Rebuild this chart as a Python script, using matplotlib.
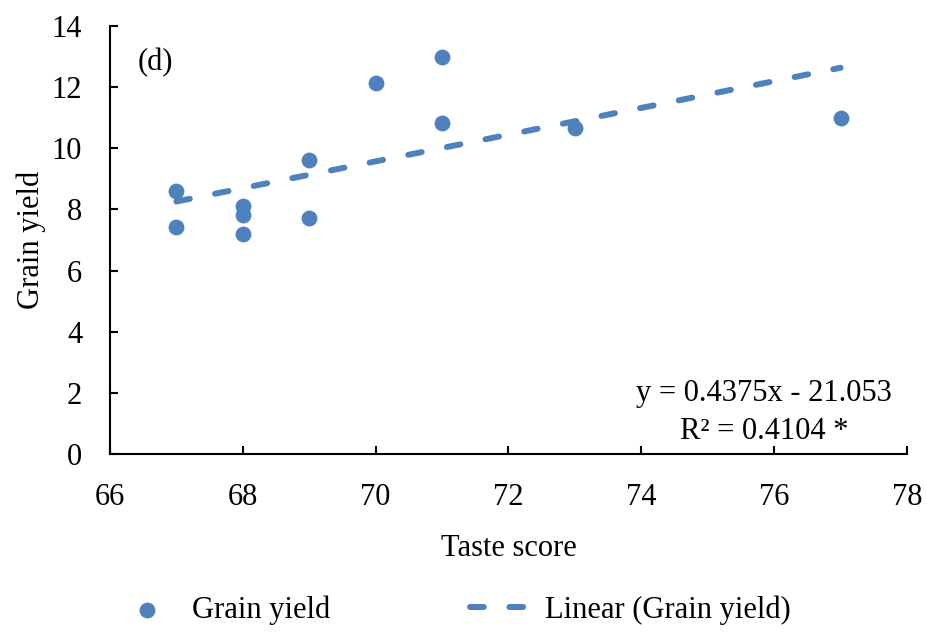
import matplotlib.pyplot as plt
import numpy as np

plt.rcParams['font.family'] = ['Liberation Serif', 'DejaVu Serif']

taste = [67, 67, 68, 68, 68, 69, 69, 70, 71, 71, 73, 77]
grain = [8.6, 7.43, 8.12, 7.83, 7.2, 9.62, 7.73, 12.15, 13.0, 10.82, 10.66, 11.0]
slope = 0.4375
intercept = -21.053
r2 = 0.4104

blue = '#4F81BD'

fig = plt.figure(figsize=(9.28, 6.33), dpi=100)
ax = fig.add_axes([0.1185, 0.2828, 0.8589, 0.6761])

pts = ax.scatter(taste, grain, s=130, color=blue, zorder=3, linewidths=0,
                 label='Grain yield')
fx = np.array([min(taste), max(taste)])
ln, = ax.plot(fx, slope * fx + intercept, color=blue, lw=4.3, dashes=(2.3, 4.3),
              dash_capstyle='round', label='Linear (Grain yield)', zorder=2)

ax.set_xlim(66, 78)
ax.set_ylim(0, 14)
ax.set_xticks(range(66, 79, 2))
ax.set_yticks(range(0, 15, 2))
for s in ('top', 'right'):
    ax.spines[s].set_visible(False)
for s in ('left', 'bottom'):
    ax.spines[s].set_linewidth(1.5)
ax.tick_params(direction='in', length=6, width=1.5, labelsize=22)
ax.tick_params(axis='y', pad=20)
ax.tick_params(axis='x', pad=21)

ax.set_xlabel('Taste score', fontsize=22, labelpad=16)
ax.set_ylabel('Grain yield', fontsize=22, labelpad=4)

ax.text(0.035, 0.915, '(d)', transform=ax.transAxes, fontsize=22, va='center')
ax.text(75.85, 1.35, f'y = {slope}x - {abs(intercept)}\nR² = {r2} *',
        fontsize=22, ha='center', va='center', multialignment='center',
        linespacing=1.4)

fig.legend(handles=[pts, ln], loc='center', bbox_to_anchor=(0.489, 0.036),
           ncol=2, frameon=False, fontsize=22, columnspacing=4.6,
           handlelength=2.0, handletextpad=0.45)

fig.savefig('out.png', dpi=100)
